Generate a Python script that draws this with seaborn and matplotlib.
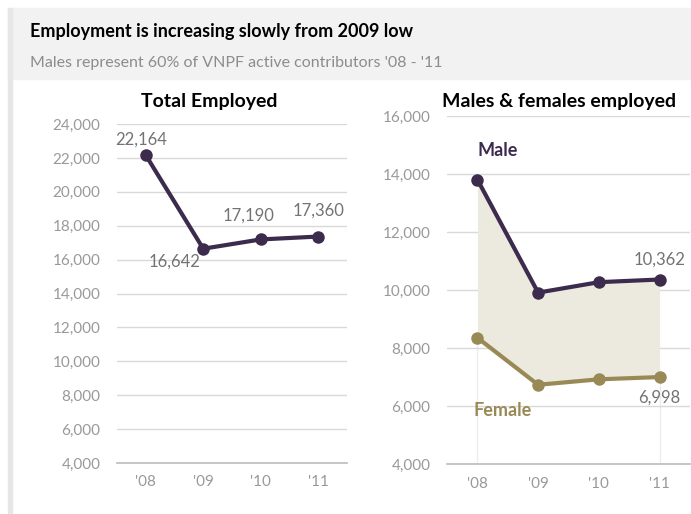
import seaborn as sns
import matplotlib.pyplot as plt
import pandas as pd
from matplotlib.patches import Rectangle
from matplotlib.ticker import FuncFormatter

# Data
years = ["'08", "'09", "'10", "'11"]
total = [22164, 16642, 17190, 17360]
male = [13810, 9910, 10270, 10362]
female = [8354, 6732, 6920, 6998]

purple = "#3D2B4E"
olive = "#998A55"
grey_txt = "#8C8C8C"
tick_txt = "#999999"
label_txt = "#737373"

sns.set_theme(style="white")
plt.rcParams["font.family"] = ["Lato", "DejaVu Sans"]

fig = plt.figure(figsize=(6.91, 5.14), dpi=100)
W, H = 691, 514

# header band and left strip
fig.patches.append(Rectangle((8 / W, 1 - 79 / H), 1 - 8 / W, 71 / H,
                             transform=fig.transFigure, color="#F2F2F2", zorder=0))
fig.patches.append(Rectangle((8 / W, 0), 4 / W, 1 - 8 / H,
                             transform=fig.transFigure, color="#E6E6E6", zorder=0))
fig.text(30 / W, 1 - 31 / H, "Employment is increasing slowly from 2009 low",
         fontsize=13, fontweight="bold", color="black", va="center")
fig.text(30 / W, 1 - 63 / H, "Males represent 60% of VNPF active contributors '08 - '11",
         fontsize=11.5, color=grey_txt, va="center")

df_total = pd.DataFrame({"year": years, "value": total})
df_sex = pd.DataFrame({"year": years, "Male": male, "Female": female})

comma = FuncFormatter(lambda v, p: f"{int(v):,}")


def style_axis(ax, ymin, ymax):
    ax.set_xlim(-0.5, 3.5)
    ax.set_ylim(ymin, ymax)
    ax.set_yticks(range(ymin, ymax + 1, 2000))
    ax.yaxis.set_major_formatter(comma)
    ax.set_xticks(range(4))
    ax.set_xticklabels(years)
    ax.set_xticks([-0.5, 0.5, 1.5, 2.5, 3.5], minor=True)
    ax.tick_params(axis="x", which="major", length=0, pad=9, labelsize=11, labelcolor=tick_txt)
    ax.tick_params(axis="x", which="minor", length=5, color="#BFBFBF", width=1)
    ax.tick_params(axis="y", length=0, pad=12, labelsize=11, labelcolor=tick_txt)
    ax.grid(axis="y", color="#D9D9D9", linewidth=1)
    ax.set_axisbelow(True)
    for s in ["top", "right", "left"]:
        ax.spines[s].set_visible(False)
    ax.spines["bottom"].set_color("#BFBFBF")
    ax.set_xlabel("")
    ax.set_ylabel("")
    ax.set_facecolor("none")


# left panel: total
ax1 = fig.add_axes([117 / W, 1 - 463 / H, 230 / W, 339 / H])
sns.lineplot(data=df_total, x="year", y="value", ax=ax1, color=purple,
             linewidth=3, marker="o", markersize=9, markeredgewidth=0)
style_axis(ax1, 4000, 24000)
fig.text(209 / W, 1 - 102 / H, "Total Employed", fontsize=14, fontweight="bold",
         color="black", ha="center", va="center")
offsets = [(-3, 11.5), (-21, -9), (-9, 17), (0, 19)]
for i, (v, off) in enumerate(zip(total, offsets)):
    ax1.annotate(f"{v:,}", (i, v), xytext=off, textcoords="offset points",
                 ha="center", va="center", fontsize=12, color=label_txt)

# right panel: male / female
ax2 = fig.add_axes([447 / W, 1 - 464 / H, 243 / W, 348 / H])
x = range(4)
ax2.fill_between(x, female, male, color="#ECE9DF", linewidth=0, zorder=1)
for xi, top in [(0, female[0]), (3, female[3])]:
    ax2.plot([xi, xi], [4000, top], color="#EDEDED", linewidth=1, zorder=0.5)
sns.lineplot(data=df_sex, x="year", y="Male", ax=ax2, color=purple,
             linewidth=3, marker="o", markersize=9, markeredgewidth=0, zorder=3)
sns.lineplot(data=df_sex, x="year", y="Female", ax=ax2, color=olive,
             linewidth=3, marker="o", markersize=9, markeredgewidth=0, zorder=3)
style_axis(ax2, 4000, 16000)
fig.text(559 / W, 1 - 101 / H, "Males & females employed", fontsize=14, fontweight="bold",
         color="black", ha="center", va="center")
ax2.annotate(f"{male[3]:,}", (3, male[3]), xytext=(0, 14), textcoords="offset points",
             ha="center", va="center", fontsize=12, color=label_txt)
ax2.annotate(f"{female[3]:,}", (3, female[3]), xytext=(0, -15), textcoords="offset points",
             ha="center", va="center", fontsize=12, color=label_txt)
ax2.text(0.33, 14800, "Male", color=purple, fontsize=13, fontweight="bold", ha="center", va="center")
ax2.text(0.41, 5850, "Female", color=olive, fontsize=13, fontweight="bold", ha="center", va="center")

fig.savefig("out.png", dpi=100)
